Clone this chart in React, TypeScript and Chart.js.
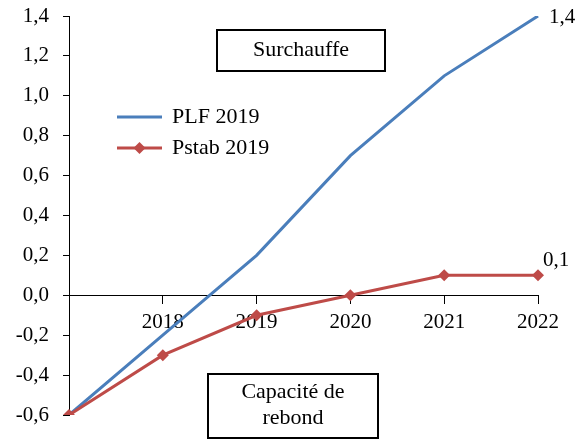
import { useEffect, useRef } from 'react';
import { Chart, registerables } from 'chart.js';

Chart.register(...registerables);

const categories = ['', '2018', '2019', '2020', '2021', '2022'];
const plf2019 = [-0.6, -0.2, 0.2, 0.7, 1.1, 1.4];
const pstab2019 = [-0.6, -0.3, -0.1, 0.0, 0.1, 0.1];
const seriesNames = ['PLF 2019', 'Pstab 2019'];
const yMin = -0.6;
const yMax = 1.4;
const yStep = 0.2;
const endLabels = ['1,4', '0,1'];
const boxTop = 'Surchauffe';
const boxBottom = ['Capacité de', 'rebond'];

const BLUE = '#4A7EBB';
const RED = '#BE4B48';
const FONT_FAMILY = '"Liberation Serif", "Times New Roman", serif';
const FONT_SIZE = 21;
const TEXT_SIZE = 22;

const fmt = (v: number) => v.toFixed(1).replace('.', ',');

const annotPlugin = {
  id: 'annot',
  afterDraw(chart: any) {
    const ctx = chart.ctx as CanvasRenderingContext2D;
    ctx.save();
    ctx.font = `${FONT_SIZE}px ${FONT_FAMILY}`;
    ctx.fillStyle = '#000';
    ctx.textBaseline = 'middle';

    // end labels
    const m0 = chart.getDatasetMeta(0).data;
    const m1 = chart.getDatasetMeta(1).data;
    const p0 = m0[m0.length - 1];
    const p1 = m1[m1.length - 1];
    ctx.textAlign = 'left';
    ctx.fillText(endLabels[0], p0.x + 11, p0.y + 1);
    ctx.fillText(endLabels[1], p1.x + 5, p1.y - 15);

    ctx.font = `${TEXT_SIZE}px ${FONT_FAMILY}`;
    // legend
    const colors = [BLUE, RED];
    const ly = [117, 148];
    for (let i = 0; i < 2; i++) {
      ctx.strokeStyle = colors[i];
      ctx.lineWidth = 3;
      ctx.beginPath();
      ctx.moveTo(117, ly[i]);
      ctx.lineTo(162, ly[i]);
      ctx.stroke();
      if (i === 1) {
        ctx.fillStyle = RED;
        ctx.beginPath();
        ctx.moveTo(139.5, ly[i] - 6);
        ctx.lineTo(145.5, ly[i]);
        ctx.lineTo(139.5, ly[i] + 6);
        ctx.lineTo(133.5, ly[i]);
        ctx.closePath();
        ctx.fill();
      }
      ctx.fillStyle = '#000';
      ctx.textAlign = 'left';
      ctx.fillText(seriesNames[i], 172, ly[i]);
    }

    // boxes
    ctx.strokeStyle = '#000';
    ctx.lineWidth = 2;
    ctx.strokeRect(217, 30, 168, 41);
    ctx.textAlign = 'center';
    ctx.fillText(boxTop, 301, 50);

    ctx.strokeRect(208, 374, 170, 64);
    ctx.fillText(boxBottom[0], 293, 392);
    ctx.fillText(boxBottom[1], 293, 418);
    ctx.restore();
  },
};

export default function App() {
  const ref = useRef<HTMLCanvasElement>(null);
  useEffect(() => {
    const font = { family: FONT_FAMILY, size: FONT_SIZE };
    const chart = new Chart(ref.current!, {
      type: 'line',
      data: {
        labels: categories,
        datasets: [
          {
            label: seriesNames[0],
            data: plf2019,
            borderColor: BLUE,
            backgroundColor: BLUE,
            borderWidth: 3,
            pointRadius: 0,
            tension: 0,
            order: 1,
          },
          {
            label: seriesNames[1],
            data: pstab2019,
            borderColor: RED,
            backgroundColor: RED,
            borderWidth: 3,
            pointStyle: 'rectRot',
            pointRadius: 6,
            pointBorderWidth: 0,
            tension: 0,
            order: 0,
          },
        ],
      },
      options: {
        animation: false,
        responsive: false,
        layout: { padding: { top: 16, right: 46, bottom: 28, left: 0 } },
        plugins: { legend: { display: false }, tooltip: { enabled: false } },
        scales: {
          x: {
            type: 'category',
            position: { y: 0 } as any,
            offset: false,
            grid: { drawOnChartArea: false, drawTicks: true, tickLength: 8, color: '#000' },
            border: { color: '#000', width: 1 },
            ticks: { color: '#000', font, padding: 7, maxRotation: 0, autoSkip: false },
          },
          y: {
            min: yMin,
            max: yMax,
            ticks: {
              stepSize: yStep,
              color: '#000',
              font,
              padding: 14,
              callback: (v: any) => fmt(Number(v)),
            },
            grid: { drawOnChartArea: false, drawTicks: true, tickLength: 6, color: '#000' },
            border: { color: '#000', width: 1 },
            afterFit: (s: any) => {
              s.width = 69;
              s.paddingTop = 0;
              s.paddingBottom = 0;
            },
          },
        },
      },
      plugins: [annotPlugin],
    });
    return () => chart.destroy();
  }, []);
  return (
    <div style={{ position: 'absolute', left: 0, top: 0, width: 584, height: 443 }}>
      <canvas ref={ref} width={584} height={443} />
    </div>
  );
}
